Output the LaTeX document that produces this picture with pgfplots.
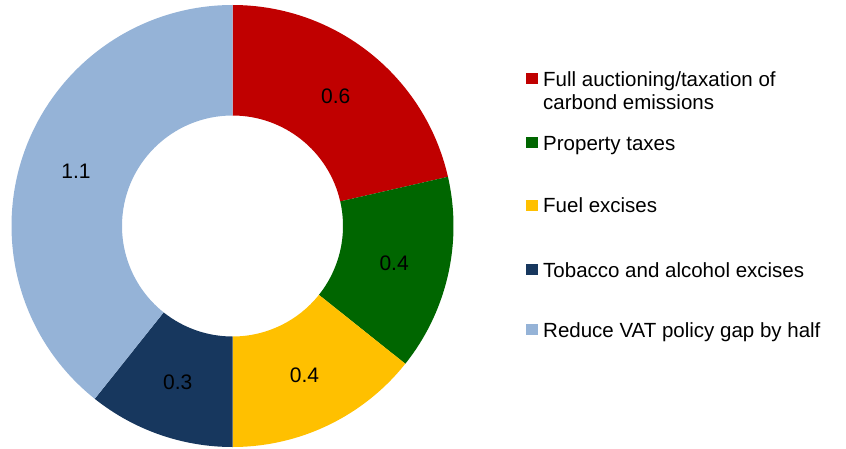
\documentclass[border=0pt]{standalone}
\usepackage{pgfplots}
\usepackage{pgfplotstable}
\pgfplotsset{compat=1.18}
\usepackage{fontspec}
\setmainfont{Liberation Sans}
\definecolor{slice0}{HTML}{C00000}
\definecolor{slice1}{HTML}{006600}
\definecolor{slice2}{HTML}{FFC000}
\definecolor{slice3}{HTML}{17375E}
\definecolor{slice4}{HTML}{95B3D7}
\pgfplotstableread{
value
0.6
0.4
0.4
0.3
1.1
}\slicedata
\begin{document}
\begin{tikzpicture}
\path[use as bounding box] (0,0) rectangle (846pt,448pt);
\begin{axis}[
  x=1pt, y=1pt, xmin=0, xmax=846, ymin=0, ymax=448,
  hide axis, clip=false, anchor=south west, at={(0,0)},
]
% total
\def\total{0}
\pgfplotsforeachungrouped \i in {0,...,4}{%
  \pgfplotstablegetelem{\i}{value}\of\slicedata
  \pgfmathsetmacro\total{\total+\pgfplotsretval}%
}
\def\cum{0}
\pgfplotsforeachungrouped \i in {0,...,4}{%
  \pgfplotstablegetelem{\i}{value}\of\slicedata
  \let\v\pgfplotsretval
  \pgfmathsetmacro\a{90-\cum/\total*360}%
  \pgfmathsetmacro\b{90-(\cum+\v)/\total*360}%
  \pgfmathsetmacro\m{(\a+\b)/2}%
  \pgfmathsetmacro\xo{232.5+221*cos(\a)}%
  \pgfmathsetmacro\yo{222+221*sin(\a)}%
  \pgfmathsetmacro\xi{232.5+110.5*cos(\b)}%
  \pgfmathsetmacro\yi{222+110.5*sin(\b)}%
  \pgfmathsetmacro\xm{232.5+165.75*cos(\m)}%
  \pgfmathsetmacro\ym{222+165.75*sin(\m)}%
  \edef\tmp{%
    \noexpand\fill[slice\i] (axis cs:\xo,\yo) arc[start angle=\a, end angle=\b, radius=221pt]
      -- (axis cs:\xi,\yi) arc[start angle=\b, end angle=\a, radius=110.5pt] -- cycle;
    \noexpand\node[font=\noexpand\fontsize{21}{25}\noexpand\selectfont] at (axis cs:\xm,\ym) {\v};
  }%
  \tmp
  \pgfmathsetmacro\cum{\cum+\v}%
}
% legend
\fill[slice0] (axis cs:526,363.7) rectangle (axis cs:537.5,374.7);
\fill[slice1] (axis cs:526,299.7) rectangle (axis cs:537.5,310.7);
\fill[slice2] (axis cs:526,237) rectangle (axis cs:537.5,248);
\fill[slice3] (axis cs:526,172.7) rectangle (axis cs:537.5,183.7);
\fill[slice4] (axis cs:526,112.7) rectangle (axis cs:537.5,123.7);
\begin{scope}[every node/.style={anchor=base west, inner sep=0pt, font=\fontsize{20.5}{24}\selectfont}]
\node at (axis cs:543,361.3) {Full auctioning/taxation of};
\node at (axis cs:543,338) {carbond emissions};
\node at (axis cs:543,298) {Property taxes};
\node at (axis cs:543,235.5) {Fuel excises};
\node at (axis cs:543,171) {Tobacco and alcohol excises};
\node at (axis cs:543,111) {Reduce VAT policy gap by half};
\end{scope}
\end{axis}
\end{tikzpicture}
\end{document}
